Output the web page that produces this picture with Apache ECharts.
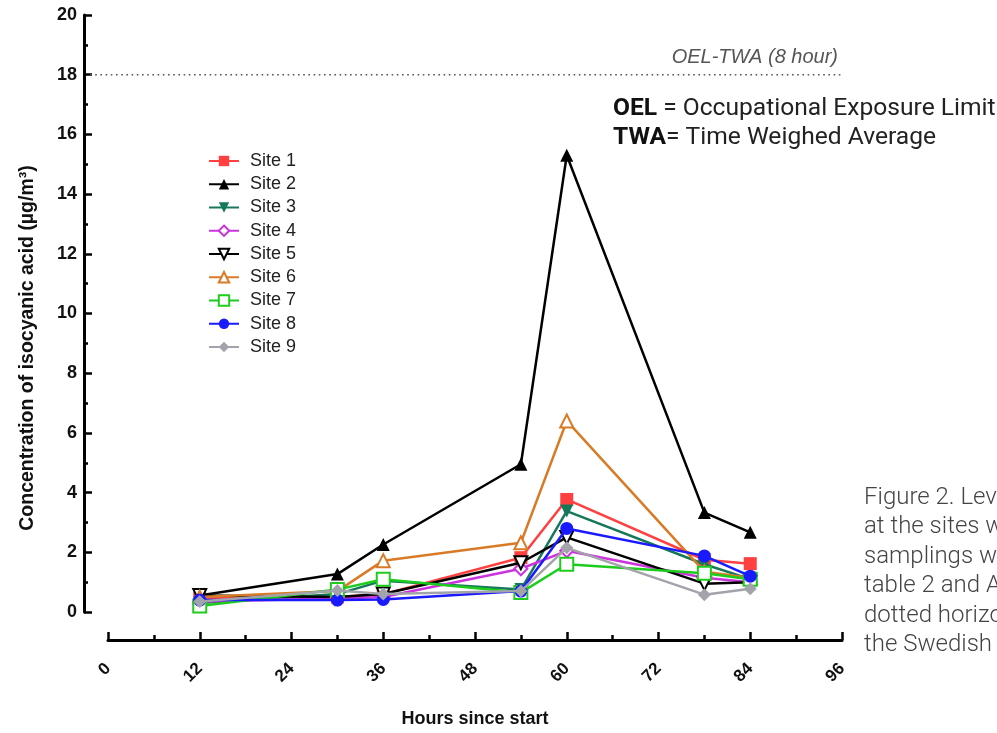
<!DOCTYPE html>
<html>
<head>
<meta charset="utf-8">
<script src="https://cdn.jsdelivr.net/npm/echarts@6/dist/echarts.min.js"></script>
<style>html,body{margin:0;padding:0;background:#fff}#c{width:997px;height:733px}</style>
</head>
<body>
<div id="c"></div>
<script>
const hours = [12, 30, 36, 54, 60, 78, 84];
const siteNames = ['Site 1','Site 2','Site 3','Site 4','Site 5','Site 6','Site 7','Site 8','Site 9'];
const site1 = [0.45, 0.50, 0.60, 1.82, 3.77, 1.75, 1.62];
const site2 = [0.55, 1.27, 2.26, 4.95, 15.30, 3.33, 2.67];
const site3 = [0.30, 0.60, 1.05, 0.75, 3.38, 1.60, 1.10];
const site4 = [0.35, 0.45, 0.50, 1.45, 2.05, 1.15, 1.00];
const site5 = [0.55, 0.50, 0.60, 1.65, 2.50, 0.95, 1.00];
const site6 = [0.50, 0.70, 1.72, 2.32, 6.40, 1.35, 1.15];
const site7 = [0.20, 0.75, 1.10, 0.65, 1.60, 1.30, 1.10];
const site8 = [0.40, 0.40, 0.42, 0.70, 2.80, 1.88, 1.20];
const site9 = [0.35, 0.72, 0.60, 0.70, 2.15, 0.58, 0.78];
const oelLimit = 18;
const xTicks = [0, 12, 24, 36, 48, 60, 72, 84, 96];
const yTicks = [0, 2, 4, 6, 8, 10, 12, 14, 16, 18, 20];

const siteValues = [site1, site2, site3, site4, site5, site6, site7, site8, site9];
const styles = [
  {color:'#ff4040', symbol:'rect', rotate:0},
  {color:'#000000', symbol:'triangle', rotate:0},
  {color:'#16785a', symbol:'triangle', rotate:180},
  {color:'#cc33dd', symbol:'emptyDiamond', rotate:0},
  {color:'#000000', symbol:'emptyTriangle', rotate:180},
  {color:'#d97b26', symbol:'emptyTriangle', rotate:0},
  {color:'#1ecc1e', symbol:'emptyRect', rotate:0},
  {color:'#1a1aff', symbol:'circle', rotate:0},
  {color:'#a3a3ab', symbol:'diamond', rotate:0}
];

const series = siteNames.map((name, i) => ({
  name: name,
  type: 'line',
  data: hours.map((h, j) => [h, siteValues[i][j]]),
  symbol: styles[i].symbol,
  symbolRotate: styles[i].rotate,
  symbolSize: 13,
  itemStyle: {color: styles[i].color, borderWidth: 2},
  lineStyle: {color: styles[i].color, width: 2.5},
  z: 3 + i
}));

const Y_OFFSET = 24;
const chart = echarts.init(document.getElementById('c'), null, {renderer: 'canvas'});
chart.setOption({
  backgroundColor: '#fff',
  animation: false,
  grid: {left: 108, right: 155, top: 15, bottom: 113},
  legend: {
    data: siteNames,
    orient: 'vertical',
    left: 203, top: 147,
    itemWidth: 30, itemHeight: 13, itemGap: 5.25,
    textStyle: {fontFamily: 'Liberation Sans, Arial', fontSize: 18, color: '#222', padding: [0, 0, 0, 6]}
  },
  xAxis: {
    type: 'value', min: 0, max: 96, interval: 12,
    offset: 28,
    axisLine: {show: true, onZero: false, lineStyle: {color: '#000', width: 3}},
    axisTick: {show: true, inside: true, length: 8, lineStyle: {width: 2.5, color: '#000'}},
    minorTick: {show: true, splitNumber: 2, length: 5, lineStyle: {width: 2.5, color: '#000'}},
    splitLine: {show: false},
    axisLabel: {rotate: 45, margin: 26, fontFamily: 'Liberation Sans, Arial', fontWeight: 'bold', fontSize: 17, color: '#111',
      formatter: v => xTicks.includes(v) ? String(v) : ''},
    name: 'Hours since start', nameLocation: 'middle', nameGap: 70,
    nameTextStyle: {fontFamily: 'Liberation Sans, Arial', fontWeight: 'bold', fontSize: 18, color: '#111'}
  },
  yAxis: {
    type: 'value', min: 0, max: 20, interval: 2,
    offset: Y_OFFSET,
    axisLine: {show: true, onZero: false, lineStyle: {color: '#000', width: 3}},
    axisTick: {show: true, inside: true, length: 8, lineStyle: {width: 2.5, color: '#000'}},
    minorTick: {show: true, splitNumber: 2, length: 4, lineStyle: {width: 2.5, color: '#000'}},
    splitLine: {show: false},
    axisLabel: {margin: 7, fontFamily: 'Liberation Sans, Arial', fontWeight: 'bold', fontSize: 18, color: '#111',
      formatter: v => yTicks.includes(v) ? String(v) : ''}
  },
  series: series
});

// Reference line at the OEL value, placed through the chart's own scales
const pStart = chart.convertToPixel({xAxisIndex: 0, yAxisIndex: 0}, [0, oelLimit]);
const pEnd = chart.convertToPixel({xAxisIndex: 0, yAxisIndex: 0}, [96, oelLimit]);
const axisX = pStart[0] - Y_OFFSET;

chart.setOption({
  graphic: [
    {type: 'line', z: 1, silent: true,
      shape: {x1: axisX + 6, y1: pStart[1], x2: pEnd[0] + 2, y2: pEnd[1]},
      style: {stroke: '#555', lineWidth: 1.6, lineDash: [1.6, 3.6]}},
    {type: 'text', x: 28, y: 348, rotation: Math.PI / 2,
      style: {text: 'Concentration of isocyanic acid (µg/m³)', fill: '#111', font: 'bold 19.5px "Liberation Sans", Arial', textAlign: 'center', textVerticalAlign: 'middle'}},
    {type: 'text', x: pEnd[0] - 4, y: pEnd[1] - 17,
      style: {text: 'OEL-TWA (8 hour)', fill: '#555', font: 'italic 20px "Liberation Sans", Arial', textAlign: 'right', textVerticalAlign: 'middle'}},
    {type: 'text', x: 613, y: 109,
      style: {text: '{b|OEL} = Occupational Exposure Limit', fill: '#222', font: '24.6px Roboto', textVerticalAlign: 'middle',
        rich: {b: {fontFamily: 'Roboto', fontWeight: 'bold', fontSize: 24.6, fill: '#111'}}}},
    {type: 'text', x: 613, y: 138,
      style: {text: '{b|TWA}= Time Weighed Average', fill: '#222', font: '24.6px Roboto', textVerticalAlign: 'middle',
        rich: {b: {fontFamily: 'Roboto', fontWeight: 'bold', fontSize: 24.6, fill: '#111'}}}},
    {type: 'text', x: 864, y: 483,
      style: {text: 'Figure 2. Levels\nat the sites were\nsamplings were\ntable 2 and Appendix\ndotted horizontal\nthe Swedish OEL', fill: '#444', font: '300 24px Roboto', lineHeight: 29.5, textVerticalAlign: 'top'}}
  ]
});
</script>
</body>
</html>
